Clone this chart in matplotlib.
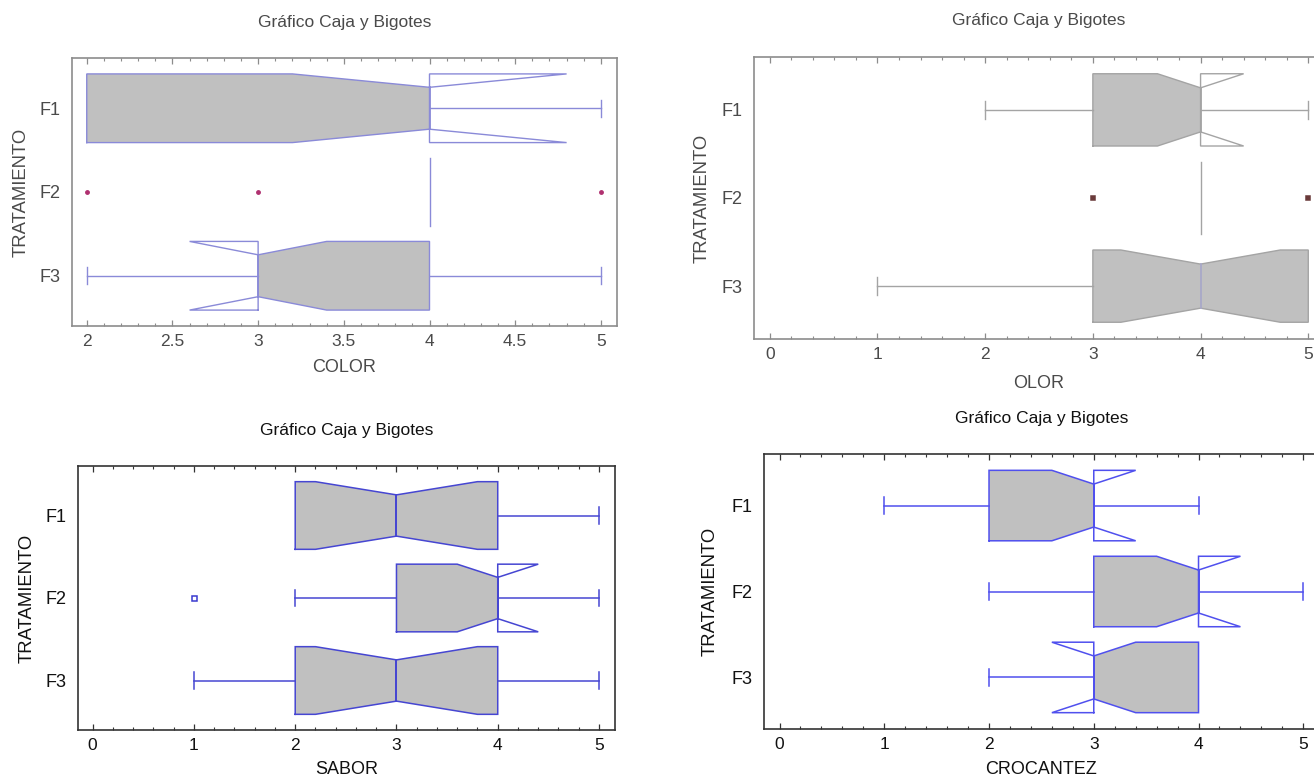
import numpy as np
import matplotlib
matplotlib.use("Agg")
import matplotlib.pyplot as plt
from matplotlib.ticker import MultipleLocator, FixedLocator

plt.rcParams['font.family'] = ['Liberation Sans', 'DejaVu Sans']

# ---------------- data ----------------
categories = ['F1', 'F2', 'F3']
title_text = 'Gráfico Caja y Bigotes'
ylabel_text = 'TRATAMIENTO'

# COLOR
color_q1 = [2, 4, 3]
color_med = [4, 4, 3]
color_q3 = [4, 4, 4]
color_cilo = [3.2, 4, 2.6]
color_cihi = [4.8, 4, 3.4]
color_wlo = [2, 4, 2]
color_whi = [5, 4, 5]
color_out = [[], [2, 3, 5], []]
color_ticks = [2, 2.5, 3, 3.5, 4, 4.5, 5]
color_ticklabels = ['2', '2.5', '3', '3.5', '4', '4.5', '5']

# OLOR
olor_q1 = [3, 4, 3]
olor_med = [4, 4, 4]
olor_q3 = [4, 4, 5]
olor_cilo = [3.6, 4, 3.26]
olor_cihi = [4.4, 4, 4.74]
olor_wlo = [2, 4, 1]
olor_whi = [5, 4, 5]
olor_out = [[], [3, 5], []]

# SABOR
sabor_q1 = [2, 3, 2]
sabor_med = [3, 4, 3]
sabor_q3 = [4, 4, 4]
sabor_cilo = [2.2, 3.6, 2.2]
sabor_cihi = [3.8, 4.4, 3.8]
sabor_wlo = [2, 2, 1]
sabor_whi = [5, 5, 5]
sabor_out = [[], [1], []]

# CROCANTEZ
croc_q1 = [2, 3, 3]
croc_med = [3, 4, 3]
croc_q3 = [3, 4, 4]
croc_cilo = [2.6, 3.6, 2.6]
croc_cihi = [3.4, 4.4, 3.4]
croc_wlo = [1, 2, 2]
croc_whi = [4, 5, 4]
croc_out = [[], [], []]

int_ticks = [0, 1, 2, 3, 4, 5]

# ---------------- drawing helpers ----------------
W, H = 1314, 778
fig = plt.figure(figsize=(W / 100, H / 100), dpi=100)
FILL = '#c0c0c0'
BW = 0.41   # half box height
NW = 0.25   # half notch height
CAP = 0.10


def px_axes(l, t, r, b):
    return fig.add_axes([l / W, 1 - b / H, (r - l) / W, (b - t) / H])


def draw_box(ax, pos, q1, med, q3, cilo, cihi, wlo, whi, out, edge, medc,
             lw, fcol, fmark, ffill, fsize):
    if q3 > q1:
        prof_x = [cilo, med, cihi]
        prof_h = [BW, NW, BW]
        xs = sorted(set([q1, q3, med] + [v for v in (cilo, cihi) if q1 <= v <= q3]))
        hs = np.interp(xs, prof_x, prof_h, left=BW, right=BW) if cihi > cilo else [BW] * len(xs)
        top = [(x, pos - h) for x, h in zip(xs, hs)]
        bot = [(x, pos + h) for x, h in zip(xs, hs)][::-1]
        poly = top + bot
        ax.fill([p[0] for p in poly], [p[1] for p in poly], color=FILL, lw=0, zorder=2)
        ox = [q1, q1, cilo, med, cihi, q3, q3, cihi, med, cilo, q1]
        oy = [pos + BW, pos - BW, pos - BW, pos - NW, pos - BW, pos - BW,
              pos + BW, pos + BW, pos + NW, pos + BW, pos + BW]
        ax.plot(ox, oy, color=edge, lw=lw, zorder=3, solid_joinstyle='miter')
        ax.plot([med, med], [pos - NW, pos + NW], color=medc, lw=lw * 1.3, zorder=4)
    else:
        # degenerate box: a single line at the median
        ax.plot([med, med], [pos - BW, pos + BW], color=edge, lw=lw, zorder=3)
    if wlo < q1:
        ax.plot([wlo, q1], [pos, pos], color=edge, lw=lw, zorder=3)
        ax.plot([wlo, wlo], [pos - CAP, pos + CAP], color=edge, lw=lw, zorder=3)
    if whi > q3:
        ax.plot([q3, whi], [pos, pos], color=edge, lw=lw, zorder=3)
        ax.plot([whi, whi], [pos - CAP, pos + CAP], color=edge, lw=lw, zorder=3)
    if out:
        ax.plot(out, [pos] * len(out), linestyle='none', marker=fmark, ms=fsize,
                mec=fcol, mfc=ffill, mew=1.1, zorder=5)


def panel(ax, data, edge, medc, lw, fcol, fmark, ffill, fsize, xlim, framec, textc,
          majors, minor_step, ticklabels, xlabel, title, title_y, xlabel_y, ylabel_x):
    q1, med, q3, cilo, cihi, wlo, whi, out = data
    for i in range(len(categories)):
        draw_box(ax, i + 1, q1[i], med[i], q3[i], cilo[i], cihi[i], wlo[i], whi[i],
                 out[i], edge, medc[i] if isinstance(medc, list) else medc, lw,
                 fcol, fmark, ffill, fsize)
    ax.set_xlim(*xlim)
    ax.set_ylim(3.6, 0.4)
    ax.set_yticks(range(1, len(categories) + 1))
    ax.set_yticklabels(categories)
    ax.xaxis.set_major_locator(FixedLocator(majors))
    ax.set_xticklabels(ticklabels)
    ax.xaxis.set_minor_locator(MultipleLocator(minor_step))
    ax.tick_params(axis='x', which='both', direction='in', top=True, bottom=True,
                   color=framec, labelsize=12.5, labelcolor=textc, pad=6)
    ax.tick_params(axis='x', which='major', length=4.5, width=0.9)
    ax.tick_params(axis='x', which='minor', length=2.5, width=0.8)
    ax.tick_params(axis='y', length=0, labelsize=13, labelcolor=textc, pad=8)
    for s in ax.spines.values():
        s.set_color(framec)
        s.set_linewidth(1.2)
    pos = ax.get_position()
    cx = (pos.x0 + pos.x1) / 2
    fig.text(cx, 1 - title_y / H, title, ha='center', va='center', fontsize=12.5, color=textc)
    fig.text(cx, 1 - xlabel_y / H, xlabel, ha='center', va='center', fontsize=13, color=textc)
    cy = (pos.y0 + pos.y1) / 2
    fig.text(ylabel_x / W, cy, ylabel_text, ha='center', va='center', rotation=90,
             fontsize=13.3, color=textc)


# ---------------- panels ----------------
ax1 = px_axes(72, 58, 617, 326)
panel(ax1, (color_q1, color_med, color_q3, color_cilo, color_cihi, color_wlo, color_whi, color_out),
      edge='#8a8ad8', medc='#8a8ad8', lw=1.0, fcol='#b03070', fmark='o', ffill='#b03070', fsize=2.4,
      xlim=(1.914, 5.094), framec='#8c8c8c', textc='#4a4a4a',
      majors=color_ticks, minor_step=0.1, ticklabels=color_ticklabels,
      xlabel='COLOR', title=title_text, title_y=22, xlabel_y=368, ylabel_x=21)

ax2 = px_axes(754, 57, 1324, 339)
panel(ax2, (olor_q1, olor_med, olor_q3, olor_cilo, olor_cihi, olor_wlo, olor_whi, olor_out),
      edge='#a4a4a4', medc=['#a4a4a4', '#a4a4a4', '#a8a8c8'], lw=1.0, fcol='#6a3a3a',
      fmark='s', ffill='#6a3a3a', fsize=2.4,
      xlim=(-0.146, 5.146), framec='#8c8c8c', textc='#4a4a4a',
      majors=int_ticks, minor_step=0.2, ticklabels=[str(t) for t in int_ticks],
      xlabel='OLOR', title=title_text, title_y=21, xlabel_y=383, ylabel_x=702)

ax3 = px_axes(78, 466, 615, 730)
panel(ax3, (sabor_q1, sabor_med, sabor_q3, sabor_cilo, sabor_cihi, sabor_wlo, sabor_whi, sabor_out),
      edge='#4646d2', medc='#4646d2', lw=1.1, fcol='#3a3ad0', fmark='s', ffill='white', fsize=3.6,
      xlim=(-0.145, 5.158), framec='#333333', textc='#111111',
      majors=int_ticks, minor_step=0.2, ticklabels=[str(t) for t in int_ticks],
      xlabel='SABOR', title=title_text, title_y=430, xlabel_y=770, ylabel_x=27)

ax4 = px_axes(764, 454, 1319, 729)
panel(ax4, (croc_q1, croc_med, croc_q3, croc_cilo, croc_cihi, croc_wlo, croc_whi, croc_out),
      edge='#5050ee', medc='#5050ee', lw=1.1, fcol='#5050ee', fmark='s', ffill='white', fsize=3.6,
      xlim=(-0.148, 5.15), framec='#333333', textc='#111111',
      majors=int_ticks, minor_step=0.2, ticklabels=[str(t) for t in int_ticks],
      xlabel='CROCANTEZ', title=title_text, title_y=418, xlabel_y=770, ylabel_x=710)

fig.savefig('out.png', dpi=100)
